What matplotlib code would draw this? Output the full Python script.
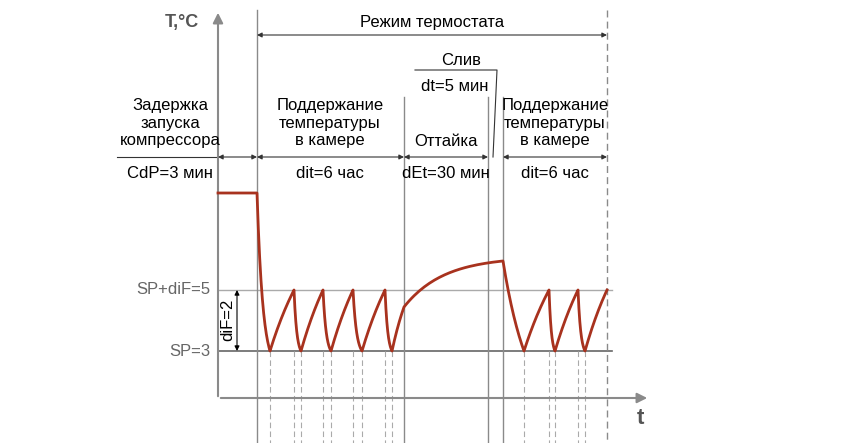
import numpy as np
import matplotlib
matplotlib.use("Agg")
import matplotlib.pyplot as plt

plt.rcParams['font.family'] = ['Liberation Sans', 'DejaVu Sans']

# schematic coordinates (pixel-like units)
y_sp, y_spdif, y_start, y_def_end = 351, 290, 193, 261
x_axis, x_cdp, x_def, x_drain, x_end2, x_last = 218, 257, 404, 488, 503, 607
mins1 = [270, 301, 331, 362, 392]
peaks1 = [294, 323, 353, 385]
mins2 = [524, 555, 585]
peaks2 = [549, 578, 607]
red = '#a8321e'; gray = '#8a8a8a'; dark = '#555555'

fig = plt.figure(figsize=(8.62, 4.43), dpi=100)
ax = fig.add_axes([0, 0, 1, 1])
ax.set_xlim(0, 862); ax.set_ylim(443, 0); ax.axis('off')

def fall(x0, y0, x1, y1, k=2.5):
    t = np.linspace(0, 1, 40)
    s = (1 - np.exp(-k * t)) / (1 - np.exp(-k))
    return x0 + (x1 - x0) * t, y0 + (y1 - y0) * s

X = [np.array([x_axis, x_cdp])]; Y = [np.array([y_start, y_start])]
def add(seg):
    X.append(seg[0]); Y.append(seg[1])
add(fall(x_cdp, y_start, mins1[0], y_sp, 2.2))
for i, p in enumerate(peaks1):
    add(fall(mins1[i], y_sp, p, y_spdif, 0.5))
    add(fall(p, y_spdif, mins1[i + 1], y_sp, 2.5))
add(fall(mins1[-1], y_sp, x_def, 307, 0.5))
add(fall(x_def, 307, x_end2, y_def_end, 2.5))
add(fall(x_end2, y_def_end, mins2[0], y_sp, 0.8))
for i, p in enumerate(peaks2):
    add(fall(mins2[i], y_sp, p, y_spdif, 0.5))
    if i + 1 < len(mins2):
        add(fall(p, y_spdif, mins2[i + 1], y_sp, 2.5))
ax.plot(np.concatenate(X), np.concatenate(Y), color=red, lw=2, zorder=5)

# axes
ax.annotate('', xy=(x_axis, 10), xytext=(x_axis, 399),
            arrowprops=dict(arrowstyle='-|>', color=gray, lw=1.5, mutation_scale=15))
ax.annotate('', xy=(650, 398), xytext=(x_axis, 398),
            arrowprops=dict(arrowstyle='-|>', color=gray, lw=1.5, mutation_scale=15))
ax.text(640, 418, 't', fontsize=16, fontweight='bold', color=dark, ha='center', va='center')
ax.text(182, 22, 'T,°C', fontsize=13, fontweight='bold', color=dark, ha='center', va='center')

# level lines
ax.plot([x_axis, 612], [y_spdif, y_spdif], color='#aaaaaa', lw=1)
ax.plot([x_axis, 612], [y_sp, y_sp], color='#666666', lw=1.2)
ax.text(210, y_sp, 'SP=3', ha='right', va='center', fontsize=12, color='#666')
ax.text(210, y_spdif, 'SP+diF=5', ha='right', va='center', fontsize=12, color='#666')
ax.annotate('', xy=(237, y_spdif), xytext=(237, y_sp),
            arrowprops=dict(arrowstyle='<|-|>', color='k', lw=0.8, mutation_scale=7, shrinkA=0, shrinkB=0))
ax.text(228, 320, 'diF=2', rotation=90, ha='center', va='center', fontsize=12)

# vertical lines
ax.plot([x_cdp, x_cdp], [10, 443], color=gray, lw=1)
for x in (x_def, x_drain, x_end2):
    ax.plot([x, x], [97, 443], color=gray, lw=1)
ax.plot([x_last, x_last], [10, 443], color=gray, lw=1, ls=(0, (5, 3)))
for x in mins1 + peaks1 + mins2 + peaks2[:-1]:
    ax.plot([x, x], [y_sp, 443], color='#aaaaaa', lw=0.8, ls=(0, (5, 3)))

# top arrow rows
def harrow(x0, x1, y):
    ax.annotate('', xy=(x0, y), xytext=(x1, y),
                arrowprops=dict(arrowstyle='<|-|>', color='#333', lw=0.8, mutation_scale=7, shrinkA=0, shrinkB=0))
harrow(x_cdp, x_last, 35)
ax.plot([117, x_axis], [157, 157], color='#333', lw=0.8)
harrow(x_axis, x_cdp, 157)
harrow(x_cdp, x_def, 157)
harrow(x_def, x_drain, 157)
harrow(x_end2, x_last, 157)
ax.plot([415, 497, 493], [70, 70, 157], color='#333', lw=0.8)

fs = 12
ax.text(432, 22, 'Режим термостата', ha='center', va='center', fontsize=fs)
ax.text(170, 123, 'Задержка\nзапуска\nкомпрессора', ha='center', va='center', fontsize=fs, linespacing=1.2)
ax.text(170, 173, 'CdP=3 мин', ha='center', va='center', fontsize=fs)
for xc in (330, 555):
    ax.text(xc, 123, 'Поддержание\nтемпературы\nв камере', ha='center', va='center', fontsize=fs, linespacing=1.2)
    ax.text(xc, 173, 'dit=6 час', ha='center', va='center', fontsize=fs)
ax.text(446, 142, 'Оттайка', ha='center', va='center', fontsize=fs)
ax.text(446, 173, 'dEt=30 мин', ha='center', va='center', fontsize=fs)
ax.text(461, 60, 'Слив', ha='center', va='center', fontsize=fs)
ax.text(455, 86, 'dt=5 мин', ha='center', va='center', fontsize=fs)

fig.savefig('out.png', dpi=100)
